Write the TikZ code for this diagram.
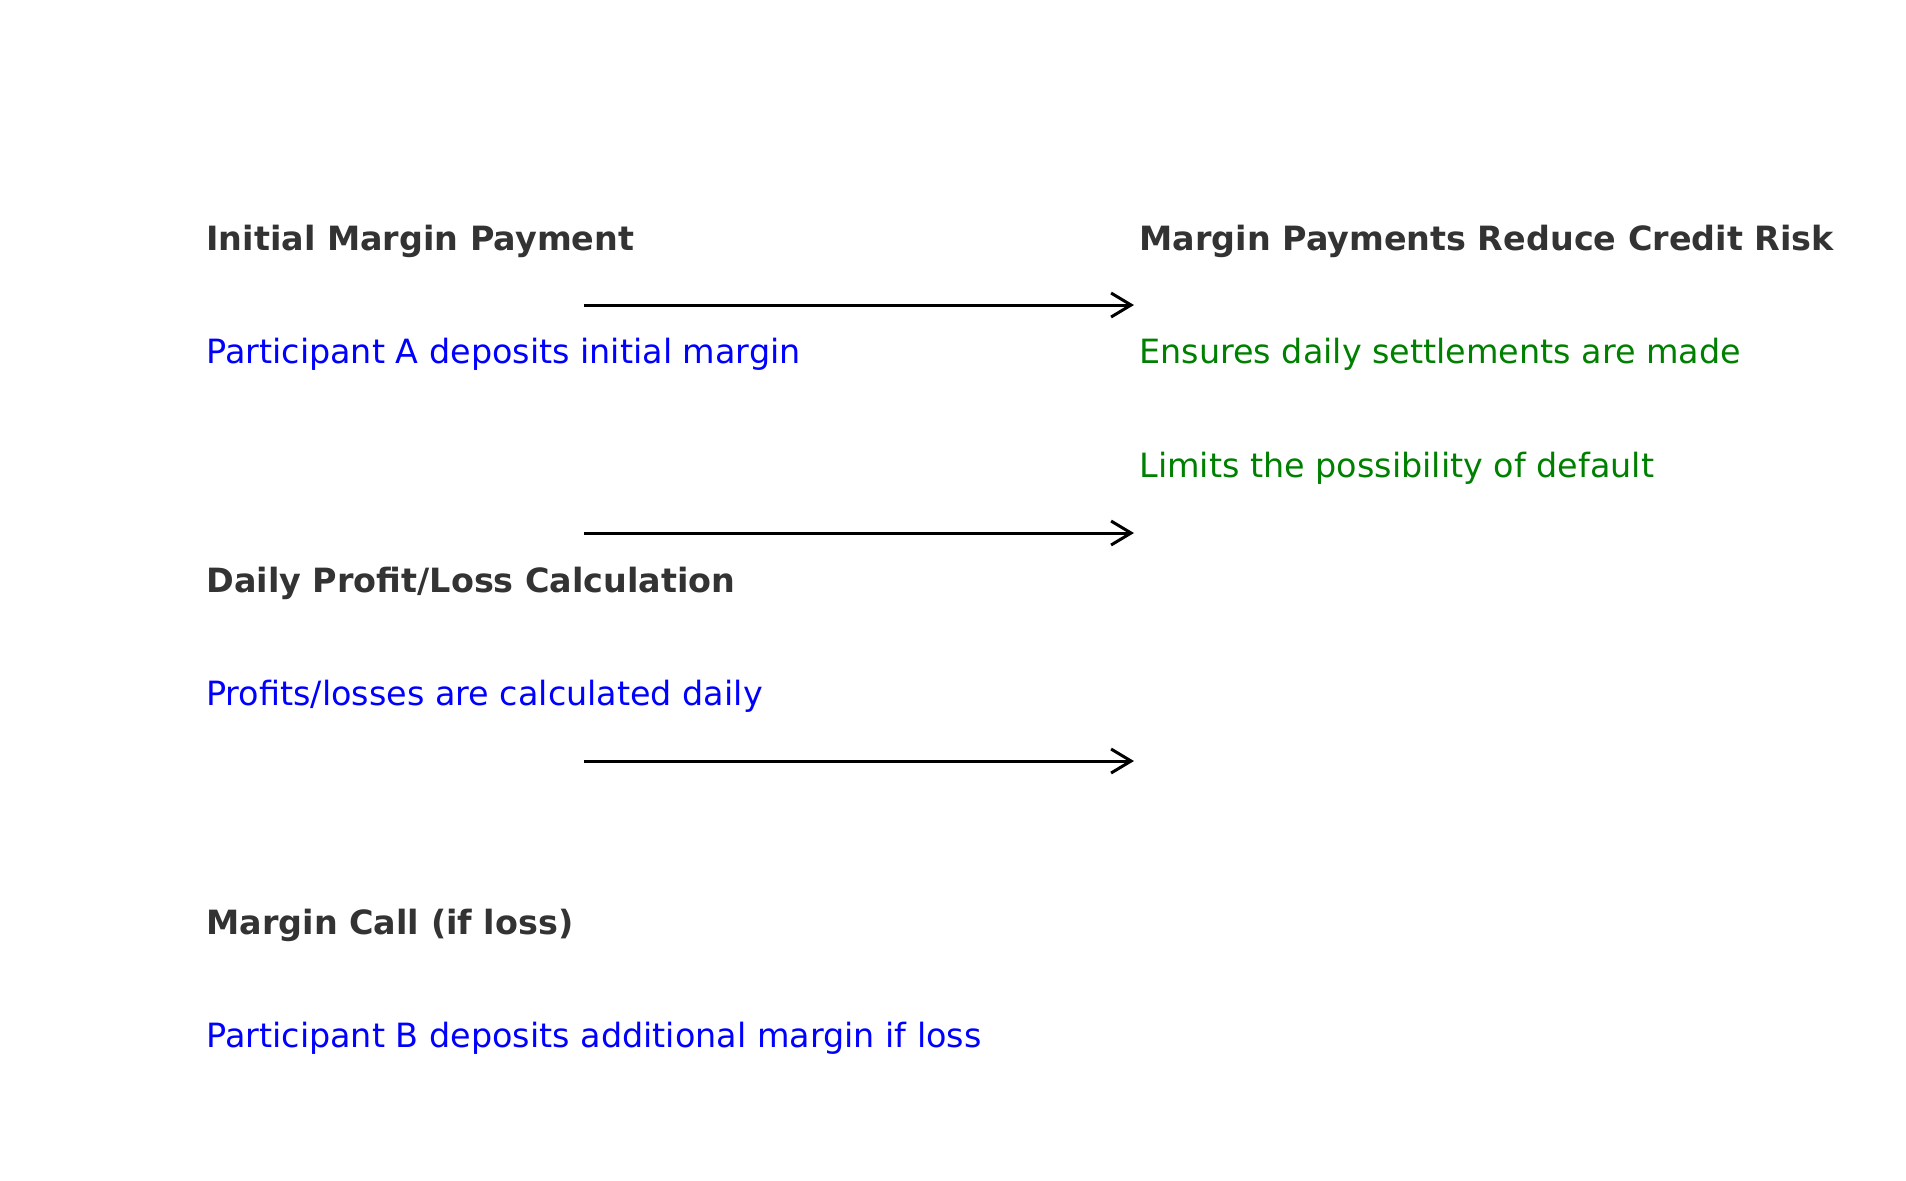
\documentclass[tikz,border=0pt]{standalone}
\usepackage{fontspec}
\setmainfont{DejaVu Sans}
\usetikzlibrary{arrows.meta}
\definecolor{titlegray}{RGB}{51,51,51}
\definecolor{descblue}{RGB}{0,0,255}
\definecolor{descgreen}{RGB}{0,128,0}
\tikzset{
  txt/.style={anchor=base west, inner sep=0pt, font=\fontsize{16.7}{20}\selectfont},
  ttl/.style={txt, text=titlegray, font=\fontsize{16.7}{20}\selectfont\bfseries},
  lft/.style={txt, text=descblue},
  rgt/.style={txt, text=descgreen},
  flow/.style={draw=black, line width=1.5pt, -{Straight Barb[length=10pt, width=12pt, line width=1.5pt]}}
}
\begin{document}
\begin{tikzpicture}[x=0.5pt, y=-0.5pt]
\useasboundingbox (0,0) rectangle (1906,1180);
\node[ttl] (t1) at (206,250) {Initial Margin Payment};
\node[lft] (d1) at (206,363) {Participant A deposits initial margin};
\node[ttl] (t2) at (206,592) {Daily Profit/Loss Calculation};
\node[lft] (d2) at (206,705) {Profits/losses are calculated daily};
\node[ttl] (t3) at (206,934) {Margin Call (if loss)};
\node[lft] (d3) at (206,1047) {Participant B deposits additional margin if loss};
\node[ttl] (r0) at (1139,250) {Margin Payments Reduce Credit Risk};
\node[rgt] (r1) at (1139,363) {Ensures daily settlements are made};
\node[rgt] (r2) at (1139,477) {Limits the possibility of default};
\coordinate (a1s) at (584,305);
\coordinate (a1e) at (1134,305);
\coordinate (a2s) at (584,533);
\coordinate (a2e) at (1134,533);
\coordinate (a3s) at (584,761);
\coordinate (a3e) at (1134,761);
\draw[flow] (a1s) -- (a1e);
\draw[flow] (a2s) -- (a2e);
\draw[flow] (a3s) -- (a3e);
\end{tikzpicture}
\end{document}
